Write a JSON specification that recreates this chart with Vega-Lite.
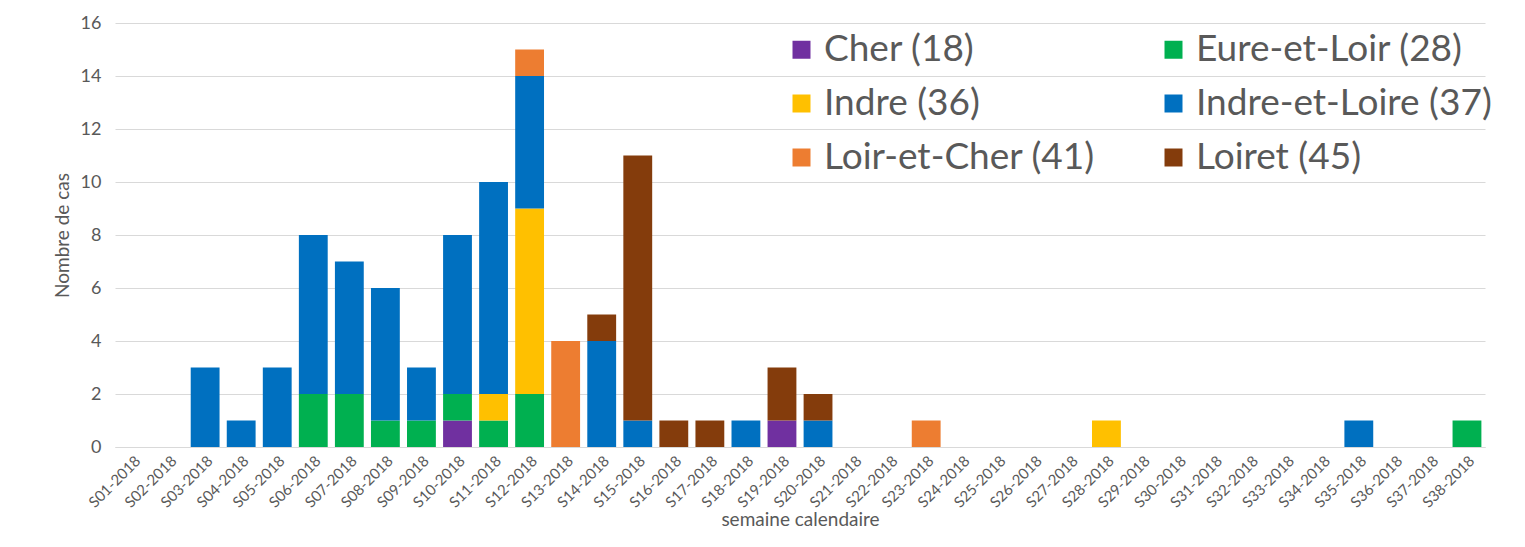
{
  "$schema": "https://vega.github.io/schema/vega-lite/v6.json",
  "width": 1370,
  "height": 424,
  "autosize": {"type": "none"},
  "padding": {"left": 115, "top": 23, "right": 40, "bottom": 100},
  "background": "white",
  "config": {
    "font": "Lato",
    "view": {"stroke": null},
    "axis": {"labelColor": "#595959", "titleColor": "#595959", "titleFontWeight": "normal", "labelFont": "Lato", "titleFont": "Lato"},
    "legend": {"labelFont": "Lato"}
  },
  "data": {
    "values": [
      {"semaine": "S03-2018", "dept": "Indre-et-Loire (37)", "n": 3},
      {"semaine": "S04-2018", "dept": "Indre-et-Loire (37)", "n": 1},
      {"semaine": "S05-2018", "dept": "Indre-et-Loire (37)", "n": 3},
      {"semaine": "S06-2018", "dept": "Eure-et-Loir (28)", "n": 2},
      {"semaine": "S06-2018", "dept": "Indre-et-Loire (37)", "n": 6},
      {"semaine": "S07-2018", "dept": "Eure-et-Loir (28)", "n": 2},
      {"semaine": "S07-2018", "dept": "Indre-et-Loire (37)", "n": 5},
      {"semaine": "S08-2018", "dept": "Eure-et-Loir (28)", "n": 1},
      {"semaine": "S08-2018", "dept": "Indre-et-Loire (37)", "n": 5},
      {"semaine": "S09-2018", "dept": "Eure-et-Loir (28)", "n": 1},
      {"semaine": "S09-2018", "dept": "Indre-et-Loire (37)", "n": 2},
      {"semaine": "S10-2018", "dept": "Cher (18)", "n": 1},
      {"semaine": "S10-2018", "dept": "Eure-et-Loir (28)", "n": 1},
      {"semaine": "S10-2018", "dept": "Indre-et-Loire (37)", "n": 6},
      {"semaine": "S11-2018", "dept": "Eure-et-Loir (28)", "n": 1},
      {"semaine": "S11-2018", "dept": "Indre (36)", "n": 1},
      {"semaine": "S11-2018", "dept": "Indre-et-Loire (37)", "n": 8},
      {"semaine": "S12-2018", "dept": "Eure-et-Loir (28)", "n": 2},
      {"semaine": "S12-2018", "dept": "Indre (36)", "n": 7},
      {"semaine": "S12-2018", "dept": "Indre-et-Loire (37)", "n": 5},
      {"semaine": "S12-2018", "dept": "Loir-et-Cher (41)", "n": 1},
      {"semaine": "S13-2018", "dept": "Loir-et-Cher (41)", "n": 4},
      {"semaine": "S14-2018", "dept": "Indre-et-Loire (37)", "n": 4},
      {"semaine": "S14-2018", "dept": "Loiret (45)", "n": 1},
      {"semaine": "S15-2018", "dept": "Indre-et-Loire (37)", "n": 1},
      {"semaine": "S15-2018", "dept": "Loiret (45)", "n": 10},
      {"semaine": "S16-2018", "dept": "Loiret (45)", "n": 1},
      {"semaine": "S17-2018", "dept": "Loiret (45)", "n": 1},
      {"semaine": "S18-2018", "dept": "Indre-et-Loire (37)", "n": 1},
      {"semaine": "S19-2018", "dept": "Cher (18)", "n": 1},
      {"semaine": "S19-2018", "dept": "Loiret (45)", "n": 2},
      {"semaine": "S20-2018", "dept": "Indre-et-Loire (37)", "n": 1},
      {"semaine": "S20-2018", "dept": "Loiret (45)", "n": 1},
      {"semaine": "S23-2018", "dept": "Loir-et-Cher (41)", "n": 1},
      {"semaine": "S28-2018", "dept": "Indre (36)", "n": 1},
      {"semaine": "S35-2018", "dept": "Indre-et-Loire (37)", "n": 1},
      {"semaine": "S38-2018", "dept": "Eure-et-Loir (28)", "n": 1}
    ]
  },
  "mark": {"type": "bar"},
  "encoding": {
    "x": {
      "field": "semaine",
      "type": "nominal",
      "title": "semaine calendaire",
      "scale": {
        "domain": ["S01-2018","S02-2018","S03-2018","S04-2018","S05-2018","S06-2018","S07-2018","S08-2018","S09-2018","S10-2018","S11-2018","S12-2018","S13-2018","S14-2018","S15-2018","S16-2018","S17-2018","S18-2018","S19-2018","S20-2018","S21-2018","S22-2018","S23-2018","S24-2018","S25-2018","S26-2018","S27-2018","S28-2018","S29-2018","S30-2018","S31-2018","S32-2018","S33-2018","S34-2018","S35-2018","S36-2018","S37-2018","S38-2018"],
        "paddingInner": 0.2,
        "paddingOuter": 0.1
      },
      "axis": {
        "labelAngle": -45,
        "labelFontSize": 15,
        "labelPadding": 6,
        "ticks": false,
        "domainColor": "#d9d9d9",
        "domainWidth": 1,
        "titleFontSize": 19,
        "titlePadding": 0
      }
    },
    "y": {
      "field": "n",
      "type": "quantitative",
      "aggregate": "sum",
      "title": "Nombre de cas",
      "scale": {"domain": [0, 16]},
      "axis": {
        "values": [0, 2, 4, 6, 8, 10, 12, 14, 16],
        "labelFontSize": 18,
        "labelPadding": 14,
        "ticks": false,
        "domain": false,
        "gridColor": "#d9d9d9",
        "titleFontSize": 19,
        "titlePadding": 8
      }
    },
    "order": {"field": "dept", "sort": "ascending"},
    "color": {
      "field": "dept",
      "type": "nominal",
      "scale": {
        "domain": ["Cher (18)", "Eure-et-Loir (28)", "Indre (36)", "Indre-et-Loire (37)", "Loir-et-Cher (41)", "Loiret (45)"],
        "range": ["#7030A0", "#00B050", "#FFC000", "#0070C0", "#ED7D31", "#843C0C"]
      },
      "legend": {
        "title": null,
        "orient": "none",
        "direction": "horizontal",
        "legendX": 668,
        "legendY": 8,
        "columns": 2,
        "symbolType": "square",
        "symbolSize": 324,
        "symbolStrokeWidth": 0,
        "labelFontSize": 37,
        "labelColor": "#595959",
        "labelLimit": 500,
        "labelOffset": 4,
        "rowPadding": 16,
        "columnPadding": 60
      }
    }
  }
}
